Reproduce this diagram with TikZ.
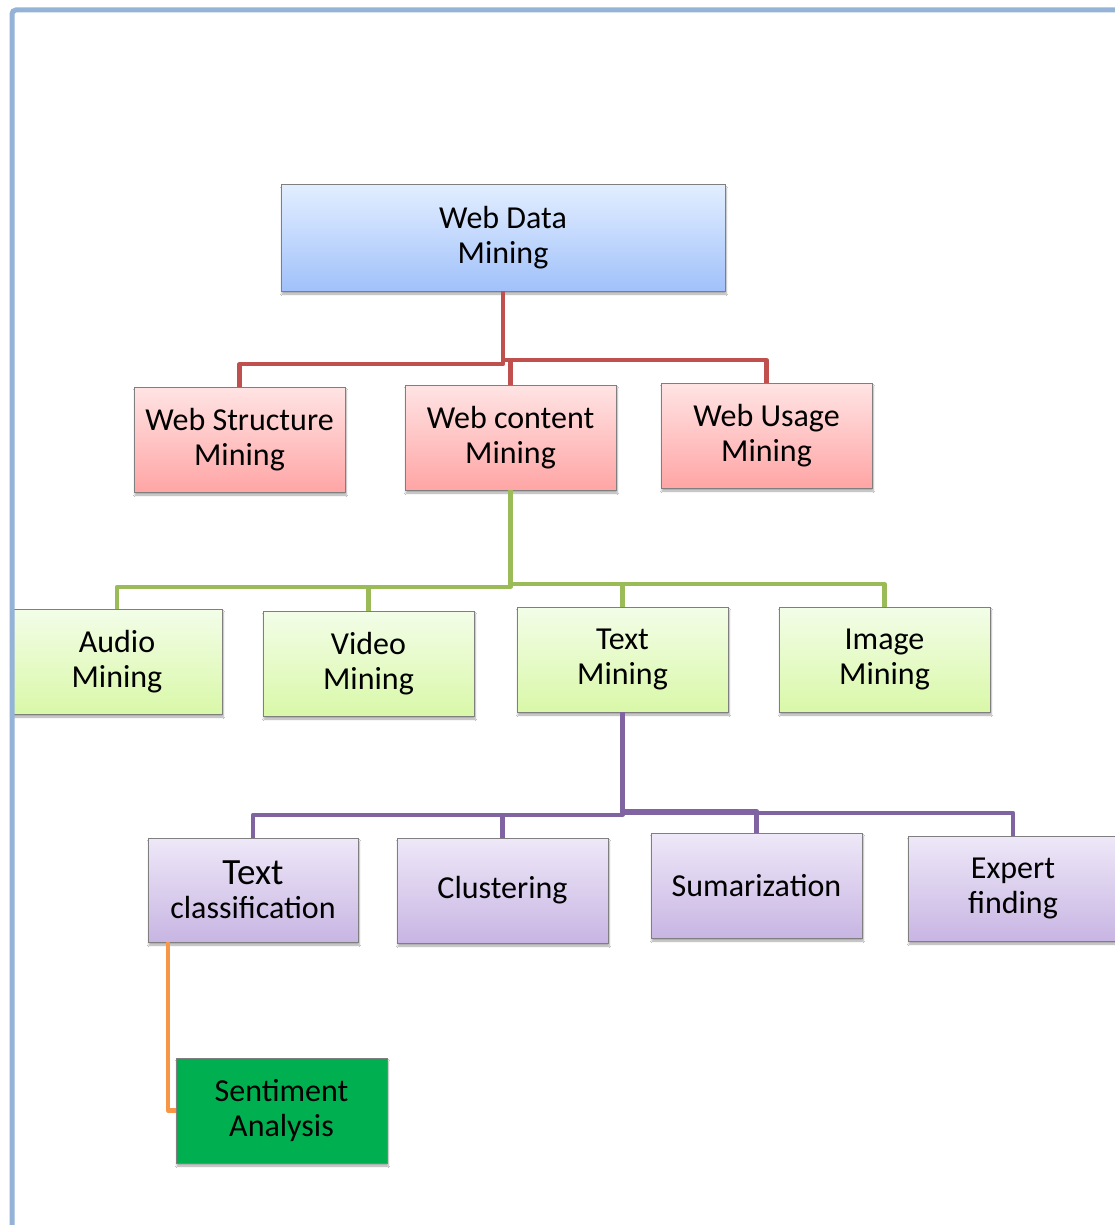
\documentclass[tikz,border=0pt]{standalone}
\usepackage{fontspec}
\setmainfont{Carlito}
\usetikzlibrary{shadows.blur}
\definecolor{framec}{HTML}{95B3D7}
\definecolor{boxline}{HTML}{7F7F7F}
\definecolor{blueT}{HTML}{E2EEFF}
\definecolor{blueB}{HTML}{A1C1FA}
\definecolor{redT}{HTML}{FFE4E4}
\definecolor{redB}{HTML}{FFA5A5}
\definecolor{greenT}{HTML}{F3FDE8}
\definecolor{greenB}{HTML}{D9F8A8}
\definecolor{purpT}{HTML}{EEE8F8}
\definecolor{purpB}{HTML}{C8B5E3}
\definecolor{sentc}{HTML}{00B050}
\definecolor{redL}{HTML}{C0504D}
\definecolor{greenL}{HTML}{9BBB59}
\definecolor{purpL}{HTML}{8064A2}
\definecolor{orangeL}{HTML}{F79646}
\tikzset{
  box/.style={draw=boxline, line width=1pt, anchor=north west, inner sep=0pt,
    outer sep=0pt, minimum height=105pt, minimum width=211pt, align=center,
    font=\fontsize{32}{35}\selectfont,
    blur shadow={shadow xshift=1pt, shadow yshift=-3pt, shadow blur steps=6, shadow opacity=35}},
  bluebox/.style={box, top color=blueT, bottom color=blueB},
  redbox/.style={box, top color=redT, bottom color=redB},
  greenbox/.style={box, top color=greenT, bottom color=greenB},
  purpbox/.style={box, top color=purpT, bottom color=purpB},
  sentbox/.style={box, fill=sentc},
  link/.style={line width=4.2pt, line join=round},
}
\begin{document}
\begin{tikzpicture}[x=1pt, y=-1pt]
\useasboundingbox (0,0) rectangle (1115,1225);
\fill[white] (0,0) rectangle (1115,1225);

% root
\node[bluebox, minimum width=444pt, minimum height=106pt] (root) at (281,185) {Web Data\\Mining};

% second level
\node[redbox] (ws) at (134,387) {Web Structure\\Mining};
\node[redbox] (wc) at (405,385) {Web content\\Mining};
\node[redbox] (wu) at (661,383) {Web Usage\\Mining};

% content mining branches
\node[greenbox, minimum width=210pt] (audio) at (12,609) {Audio\\Mining};
\node[greenbox] (video) at (263,611) {Video\\Mining};
\node[greenbox] (text) at (517,607) {Text\\Mining};
\node[greenbox] (image) at (779,607) {Image\\Mining};

% text mining branches
\node[purpbox, minimum width=210pt, minimum height=104pt] (tc) at (148,838)
  {{\fontsize{37}{37}\selectfont Text}\\[-1pt]classification};
\node[purpbox] (clu) at (397,838) {Clustering};
\node[purpbox] (sum) at (651,833) {Sumarization};
\node[purpbox, minimum width=210pt] (exp) at (908,836) {Expert\\finding};

% sentiment
\node[sentbox] (sa) at (176,1058) {Sentiment\\Analysis};

% red connectors
\draw[link, redL] (root.south) -- ++(0,73) -| (ws.north);
\draw[link, redL] (root.south) -- ++(0,69) -| (wu.north);
\draw[link, redL] (root.south) ++(0,69) -| (wc.north);

% green connectors
\draw[link, greenL] (wc.south) -- ++(0,97) -| (audio.north);
\draw[link, greenL] (wc.south) ++(0,97) -| (video.north);
\draw[link, greenL] (wc.south) -- ++(0,94) -| (image.north);
\draw[link, greenL] (wc.south) ++(0,94) -| (text.north);

% purple connectors
\draw[link, purpL] (text.south) -- ++(0,103) -| (tc.north);
\draw[link, purpL] (text.south) ++(0,103) -| (clu.north);
\draw[link, purpL] (text.south) -- ++(0,99) -| (sum.north);
\draw[link, purpL] (text.south) ++(0,101) -| (exp.north);

% orange connector
\draw[link, orangeL] ([xshift=-85pt]tc.south) |- (sa.west);

% frame
\draw[framec, line width=5pt, rounded corners=4pt] (12,1240) -- (12,10) -- (1130,10);
\end{tikzpicture}
\end{document}
